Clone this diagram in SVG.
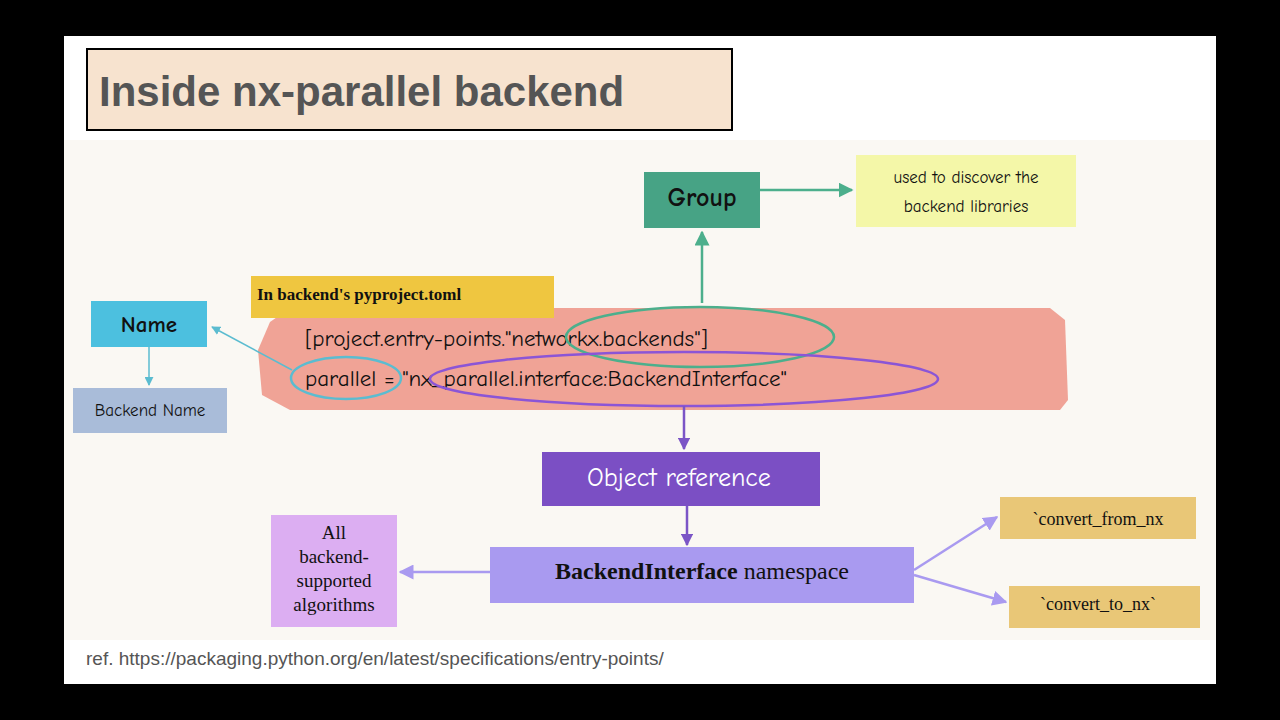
<svg xmlns="http://www.w3.org/2000/svg" width="1280" height="720" viewBox="0 0 1280 720">
<style>
.hand{font-family:"Comic Neue","Noto Sans","DejaVu Sans",sans-serif}
.ser{font-family:"Liberation Serif",serif}
.sans{font-family:"Liberation Sans",Arial,sans-serif}
</style>
<defs>
<marker id="ag" viewBox="0 0 10 10" refX="9" refY="5" markerWidth="6" markerHeight="6" orient="auto"><path d="M0,0L10,5L0,10z" fill="#4caf8c"/></marker>
<marker id="ac" viewBox="0 0 10 10" refX="9" refY="5" markerWidth="6" markerHeight="6" orient="auto"><path d="M0,0L10,5L0,10z" fill="#5bbcd0"/></marker>
<marker id="ap" viewBox="0 0 10 10" refX="9" refY="5" markerWidth="5" markerHeight="5" orient="auto"><path d="M0,0L10,5L0,10z" fill="#7b55c6"/></marker>
<marker id="al" viewBox="0 0 10 10" refX="9" refY="5" markerWidth="6" markerHeight="6" orient="auto"><path d="M0,0L10,5L0,10z" fill="#a99af0"/></marker>
</defs>
<rect width="1280" height="720" fill="#000"/>
<rect x="64" y="36" width="1152" height="648" fill="#ffffff"/>
<rect x="64" y="140" width="1152" height="500" fill="#faf8f3"/>
<g id="title"><rect x="87" y="49" width="645" height="81" fill="#f7e3cf" stroke="#000" stroke-width="2"/>
<text x="99" y="106" class="sans" font-size="42" font-weight="bold" fill="#555">Inside nx-parallel backend</text></g>
<g id="code">
<path d="M270,322 L290,308 L1050,308 L1065,320 L1068,400 L1060,410 L290,410 L262,395 L258,350 Z" fill="#f0a396"/>
<text x="305" y="346" class="hand" font-size="23" fill="#111">[project.entry-points."networkx.backends"]</text>
<text x="305" y="386" class="hand" font-size="23" fill="#111">parallel  = "nx_parallel.interface:BackendInterface"</text>
<ellipse cx="700" cy="337" rx="134" ry="30" fill="none" stroke="#4caf8c" stroke-width="2.5"/>
<ellipse cx="346" cy="378" rx="55" ry="21" fill="none" stroke="#5bbcd0" stroke-width="2.5"/>
<ellipse cx="684" cy="379" rx="254" ry="27" fill="none" stroke="#8b55d6" stroke-width="2.5"/>
</g>
<g id="toml"><rect x="251" y="276" width="303" height="42" fill="#efc640"/>
<text x="257" y="300" class="ser" font-size="17" font-weight="bold" fill="#111">In backend's pyproject.toml</text></g>
<g id="group"><rect x="644" y="172" width="116" height="56" fill="#47a385"/>
<text x="702" y="206" class="hand" font-size="26" font-weight="bold" text-anchor="middle" fill="#111">Group</text></g>
<g id="discover"><rect x="856" y="155" width="220" height="72" fill="#f4f7a8"/>
<text x="966" y="183" class="hand" font-size="17" text-anchor="middle" fill="#111">used to discover the</text>
<text x="966" y="212" class="hand" font-size="17" text-anchor="middle" fill="#111">backend libraries</text></g>
<g id="name"><rect x="91" y="301" width="116" height="46" fill="#4cc0df"/>
<text x="149" y="332" class="hand" font-size="23" font-weight="bold" text-anchor="middle" fill="#111">Name</text></g>
<g id="bname"><rect x="73" y="388" width="154" height="45" fill="#a9bcd9"/>
<text x="150" y="416" class="hand" font-size="17" text-anchor="middle" fill="#111">Backend Name</text></g>
<g id="objref"><rect x="542" y="452" width="278" height="54" fill="#7b4fc4"/>
<text x="679" y="486" class="hand" font-size="26" text-anchor="middle" fill="#fff">Object reference</text></g>
<g id="ns"><rect x="490" y="547" width="424" height="56" fill="#a99af0"/>
<text x="702" y="579" class="ser" font-size="24" text-anchor="middle" fill="#111"><tspan font-weight="bold">BackendInterface</tspan> namespace</text></g>
<g id="algos"><rect x="271" y="515" width="126" height="112" fill="#dcaef2"/>
<text class="ser" font-size="19" text-anchor="middle" fill="#111"><tspan x="334" y="539">All</tspan><tspan x="334" y="563">backend-</tspan><tspan x="334" y="587">supported</tspan><tspan x="334" y="611">algorithms</tspan></text></g>
<g id="from"><rect x="1000" y="497" width="196" height="42" fill="#e9c777"/>
<text x="1098" y="525" class="ser" font-size="18" text-anchor="middle" fill="#111">`convert_from_nx</text></g>
<g id="to"><rect x="1009" y="586" width="191" height="42" fill="#e9c777"/>
<text x="1098" y="610" class="ser" font-size="18" text-anchor="middle" fill="#111">`convert_to_nx`</text></g>
<g id="connectors" fill="none" stroke-width="2.5">
<path d="M702,303 L702,232" stroke="#4caf8c" marker-end="url(#ag)"/>
<path d="M760,190 L852,190" stroke="#4caf8c" marker-end="url(#ag)"/>
<path d="M292,370 L212,327" stroke="#5bbcd0" stroke-width="1.5" marker-end="url(#ac)"/>
<path d="M149,347 L149,385" stroke="#5bbcd0" stroke-width="1.5" marker-end="url(#ac)"/>
<path d="M684,406 L684,449" stroke="#7b55c6" marker-end="url(#ap)"/>
<path d="M687,506 L687,545" stroke="#7b55c6" marker-end="url(#ap)"/>
<path d="M490,572 L400,572" stroke="#a99af0" marker-end="url(#al)"/>
<path d="M914,570 L997,517" stroke="#a99af0" marker-end="url(#al)"/>
<path d="M914,575 L1006,602" stroke="#a99af0" marker-end="url(#al)"/>
</g>
<text x="86" y="665" class="sans" font-size="19" fill="#555">ref. https://packaging.python.org/en/latest/specifications/entry-points/</text>
</svg>
